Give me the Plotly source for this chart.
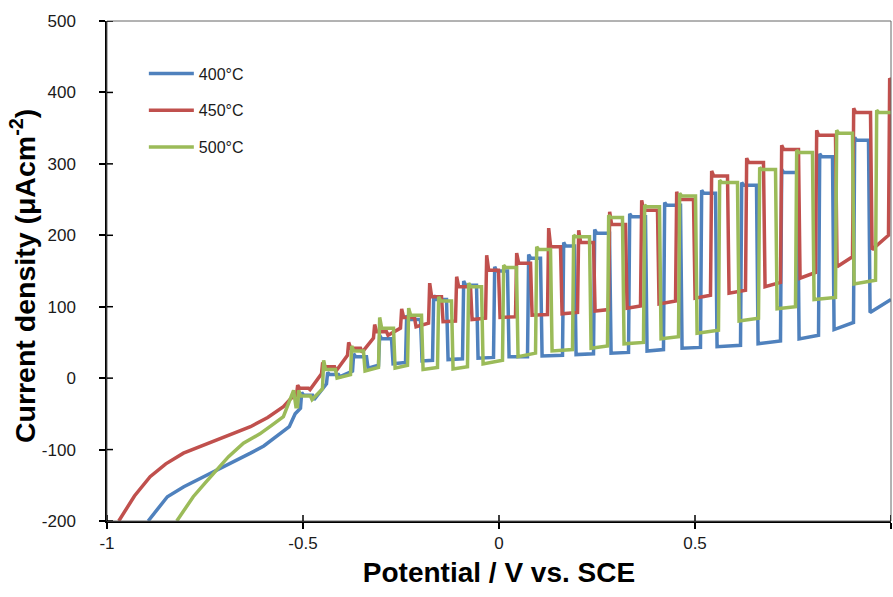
import plotly.graph_objects as go

# ---------------- data ----------------
# Dark (un-chopped) start of each sweep: potential (V vs SCE), current density (uA cm-2)
v_pre_400 = [-0.895, -0.87, -0.846, -0.804, -0.76, -0.719, -0.68, -0.634, -0.60, -0.567, -0.535, -0.52]
j_pre_400 = [-200, -182, -166, -152, -140, -129, -118, -105, -95, -82, -68, -50]
v_pre_450 = [-0.97, -0.93, -0.89, -0.85, -0.805, -0.76, -0.72, -0.68, -0.634, -0.59, -0.55, -0.53]
j_pre_450 = [-200, -165, -138, -120, -105, -95, -87, -78, -68, -55, -40, -28]
v_pre_500 = [-0.822, -0.80, -0.78, -0.75, -0.72, -0.69, -0.652, -0.61, -0.58, -0.55, -0.524, -0.518]
j_pre_500 = [-200, -182, -166, -147, -129, -110, -91, -78, -66, -54, -17, -40]

# Chopped-light part: light-on potential, light-off potential,
# dark current before light-on, transient peak, light plateau, dark current after light-off
on_400 = [-0.5064, -0.4401, -0.3737, -0.3074, -0.2385, -0.1696, -0.0931, -0.0140, 0.0727, 0.1620,
          0.2411, 0.3304, 0.4196, 0.5140, 0.6161, 0.7181, 0.8151, 0.9043]
off_400 = [-0.4758, -0.4094, -0.3380, -0.2742, -0.2003, -0.1339, -0.0574, 0.0217, 0.1059, 0.1926,
           0.2819, 0.3737, 0.4630, 0.5523, 0.6569, 0.7615, 0.8508, 0.9426]
dark_400 = [-42, -8, 10, 18, 22, 25, 27, 29, 30, 32, 34, 36, 40, 43, 46, 52, 60, 78]
peak_400 = [-20, 8, 34, 60, 88, 116, 136, 156, 173, 190, 208, 230, 246, 263, 274, 292, 314, 337]
light_400 = [-24, 5, 30, 55, 82, 110, 130, 150, 168, 185, 203, 226, 242, 259, 270, 288, 310, 333]
after_400 = [-30, 2, 14, 20, 24, 26, 28, 30, 31, 33, 35, 38, 42, 44, 48, 55, 68, 92]
end_400 = (1.0, 110)

on_450 = [-0.5166, -0.4528, -0.3865, -0.3202, -0.2513, -0.1798, -0.1110, -0.0344, 0.0421, 0.1237,
          0.2003, 0.2793, 0.3610, 0.4503, 0.5395, 0.6288, 0.7181, 0.8074, 0.9018, 0.9936]
off_450 = [-0.4860, -0.4196, -0.3533, -0.2870, -0.2156, -0.1467, -0.0727, -0.0013, 0.0804, 0.1569,
           0.2411, 0.3227, 0.4043, 0.4962, 0.5829, 0.6747, 0.7640, 0.8584, 0.9477, 1.04]
dark_450 = [-24, 6, 32, 56, 70, 77, 80, 84, 86, 89, 92, 96, 101, 108, 116, 123, 134, 148, 170, 200]
peak_450 = [-10, 22, 50, 75, 97, 133, 142, 172, 175, 210, 207, 233, 249, 261, 290, 308, 326, 347, 378, 420]
light_450 = [-14, 16, 42, 65, 85, 114, 128, 151, 161, 184, 190, 215, 235, 250, 283, 302, 320, 340, 372, 415]
after_450 = [-16, 10, 36, 60, 72, 79, 82, 85, 88, 90, 94, 98, 104, 112, 119, 128, 140, 156, 180, 415]
end_450 = (1.04, 415)

on_500 = [-0.5140, -0.4503, -0.3788, -0.3074, -0.2334, -0.1569, -0.0804, 0.0089, 0.0932, 0.1875,
          0.2768, 0.3686, 0.4579, 0.5599, 0.6620, 0.7564, 0.8584, 0.9605]
off_500 = [-0.4809, -0.4171, -0.3457, -0.2691, -0.1977, -0.1212, -0.0446, 0.0446, 0.1314, 0.2309,
           0.3150, 0.4094, 0.5013, 0.6084, 0.7054, 0.7997, 0.9018, 1.04]
dark_500 = [-40, -15, 5, 15, 18, 15, 16, 25, 35, 40, 45, 50, 58, 67, 84, 100, 113, 137]
peak_500 = [-17, 25, 45, 85, 98, 114, 133, 158, 184, 200, 228, 242, 259, 277, 295, 319, 347, 375]
light_500 = [-25, 12, 38, 70, 88, 108, 128, 155, 180, 198, 225, 240, 255, 274, 292, 316, 343, 372]
after_500 = [-30, 0, 10, 14, 12, 13, 20, 30, 38, 42, 48, 55, 63, 80, 97, 110, 132, 372]
end_500 = (1.04, 372)

names = ["400°C", "450°C", "500°C"]
colors = ["#4F81BD", "#C0504D", "#9BBB59"]

y_ticks = [-200, -100, 0, 100, 200, 300, 400, 500]
y_tick_text = ["-200", "-100", "0", "100", "200", "300", "400", "500"]
x_ticks = [-1, -0.5, 0, 0.5, 1]
x_tick_text = ["-1", "-0.5", "0", "0.5", "1"]


def build(v_pre, j_pre, on, off, dark, peak, light, after, end):
    xs, ys = list(v_pre), list(j_pre)
    for i in range(len(on)):
        xs += [on[i], on[i] + 0.003, on[i] + 0.008, off[i], off[i] + 0.004]
        ys += [dark[i], peak[i], light[i], light[i], after[i]]
    xs.append(end[0])
    ys.append(end[1])
    return xs, ys


series = [
    build(v_pre_400, j_pre_400, on_400, off_400, dark_400, peak_400, light_400, after_400, end_400),
    build(v_pre_450, j_pre_450, on_450, off_450, dark_450, peak_450, light_450, after_450, end_450),
    build(v_pre_500, j_pre_500, on_500, off_500, dark_500, peak_500, light_500, after_500, end_500),
]

fig = go.Figure()
for (xs, ys), name, col in zip(series, names, colors):
    fig.add_trace(go.Scatter(x=xs, y=ys, mode="lines", name=name, legendgroup=name,
                             line=dict(color=col, width=3.5)))

font_family = "Liberation Sans, Arial, sans-serif"

# inner halves of the crossing tick marks (outer halves are the axis ticks)
tick_len_px = 6
plot_w, plot_h = 784, 500
tick_shapes = []
for yv in y_ticks:
    tick_shapes.append(dict(type="line", xref="paper", yref="y", x0=0, x1=tick_len_px / plot_w,
                            y0=yv, y1=yv, line=dict(color="black", width=1.5), layer="above"))
for xv in x_ticks:
    tick_shapes.append(dict(type="line", xref="x", yref="paper", x0=xv, x1=xv,
                            y0=0, y1=tick_len_px / plot_h, line=dict(color="black", width=1.5),
                            layer="above"))

fig.update_layout(
    width=893, height=597, autosize=False,
    margin=dict(l=107, r=2, t=21, b=76, autoexpand=False),
    paper_bgcolor="white", plot_bgcolor="white",
    font=dict(family=font_family, color="#1a1a1a"),
    showlegend=True,
    legend=dict(x=0.047, y=0.929, xanchor="left", yanchor="top", bgcolor="rgba(0,0,0,0)",
                font=dict(size=16, color="#1a1a1a"), tracegroupgap=13, itemwidth=45),
    xaxis=dict(range=[-1, 1], tickmode="array", tickvals=x_ticks, ticktext=x_tick_text,
               showgrid=False, zeroline=False, showline=True, linecolor="black", linewidth=1.5,
               ticks="outside", ticklen=tick_len_px, tickwidth=1.5, tickcolor="black",
               automargin=False, tickfont=dict(size=17, color="#1a1a1a"),
               title=dict(text="<b>Potential / V vs. SCE</b>", font=dict(size=28, color="black"),
                          standoff=10)),
    yaxis=dict(range=[-200, 500], tickmode="array", tickvals=y_ticks, ticktext=y_tick_text,
               automargin=False,
               showgrid=False, zeroline=False, showline=True, linecolor="black", linewidth=1.5,
               ticks="outside", ticklen=tick_len_px, tickwidth=1.5, tickcolor="black",
               tickfont=dict(size=17, color="#1a1a1a"), ticklabelstandoff=20),
    shapes=[dict(type="rect", xref="paper", yref="paper", x0=0, y0=0, x1=1, y1=1,
                 line=dict(color="#666666", width=1), layer="above")] + tick_shapes,
    annotations=[dict(text="<b>Current density (μAcm<sup>-2</sup>)</b>", textangle=-90,
                      xref="paper", yref="paper", x=-0.107, y=0.49, xanchor="center",
                      yanchor="middle", showarrow=False, font=dict(size=28.5, color="black"))],
)

page_fix = ("document.body.style.margin='0px';document.body.style.padding='0px';"
            "document.body.style.overflow='hidden';"
            "var gd=document.getElementById('{plot_id}');"
            "Plotly.relayout(gd,{width:893,height:597});")

fig.write_html("out.html", config={"responsive": False, "displayModeBar": False},
               post_script=page_fix)
